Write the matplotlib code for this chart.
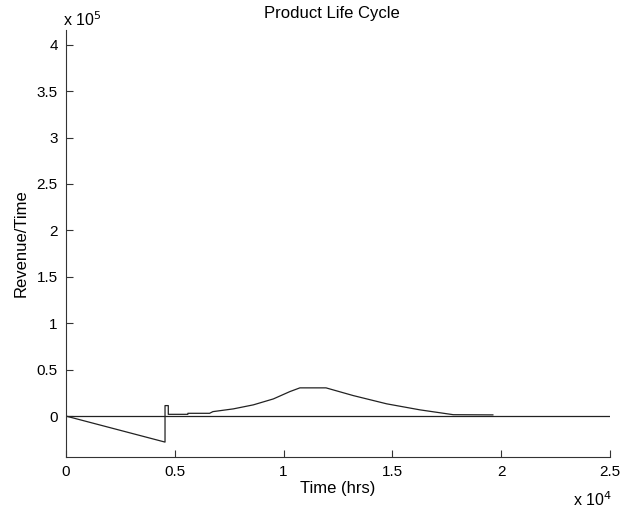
import matplotlib.pyplot as plt
import numpy as np

plt.rcParams["font.family"] = ["Liberation Sans", "DejaVu Sans"]

# ============================================================
# DATI
# ============================================================

time_hrs = [0, 4550, 4550, 4700, 4700, 5600, 5600, 6600, 6750, 7690,
            8610, 9530, 10290, 10750, 11950, 13200, 14740, 16270,
            17800, 19620]
revenue = [0, -28000, 11300, 11300, 1900, 1900, 3000, 3000, 4800, 7760,
           12100, 18500, 26400, 30400, 30400, 22100, 13200, 6700,
           1500, 1300]

zero_time = [0, 25000]
zero_revenue = [0, 0]

X_SCALE = 1e4
Y_SCALE = 1e5

x_ticks = [0, 0.5, 1, 1.5, 2, 2.5]
x_tick_labels = ["0", "0.5", "1", "1.5", "2", "2.5"]
y_ticks = [0, 0.5, 1, 1.5, 2, 2.5, 3, 3.5, 4]
y_tick_labels = ["0", "0.5", "1", "1.5", "2", "2.5", "3", "3.5", "4"]

# ============================================================
# FIGURA
# ============================================================

fig = plt.figure(figsize=(6.23, 5.14), dpi=100)
ax = fig.add_axes([0.106, 0.111, 0.873, 0.831])

ax.plot(
    np.array(zero_time) / X_SCALE,
    np.array(zero_revenue) / Y_SCALE,
    color="#222222",
    linewidth=0.9,
)
ax.plot(
    np.array(time_hrs) / X_SCALE,
    np.array(revenue) / Y_SCALE,
    color="#222222",
    linewidth=0.9,
)

ax.set_xlim(0, 2.5)
ax.set_ylim(-0.44, 4.16)

ax.set_xticks(x_ticks)
ax.set_xticklabels(x_tick_labels)
ax.set_yticks(y_ticks)
ax.set_yticklabels(y_tick_labels)

ax.spines["top"].set_visible(False)
ax.spines["right"].set_visible(False)
for side in ["left", "bottom"]:
    ax.spines[side].set_color("#333333")
    ax.spines[side].set_linewidth(0.8)

ax.tick_params(
    direction="in",
    length=5,
    width=0.8,
    labelsize=11,
    colors="#333333",
    labelcolor="black",
    pad=6,
)

ax.set_xlabel("Time (hrs)", fontsize=12, labelpad=1)
ax.set_ylabel("Revenue/Time", fontsize=12, labelpad=6)

fig.text(0.532, 0.973, "Product Life Cycle", fontsize=12, ha="center", va="center")
fig.text(0.101, 0.962, r"x 10$^{5}$", fontsize=11.5, ha="left", va="center")
fig.text(0.982, 0.028, r"x 10$^{4}$", fontsize=11.5, ha="right", va="center")

fig.savefig("out.png", dpi=100, facecolor="white")
plt.close(fig)
